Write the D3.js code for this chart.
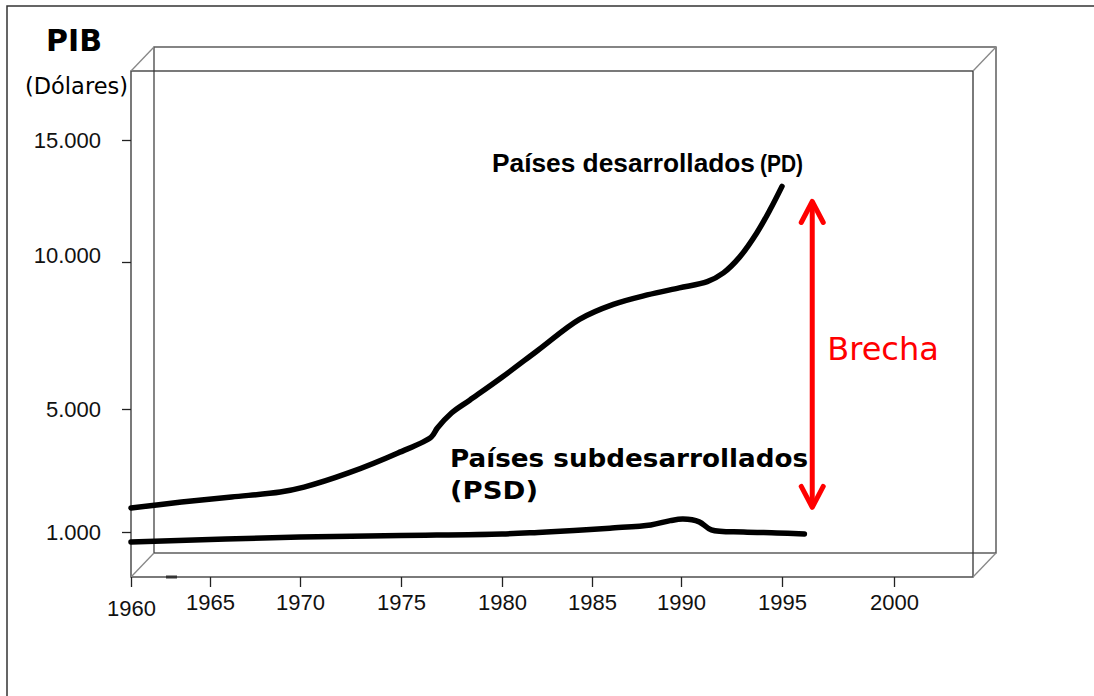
<!DOCTYPE html>
<html>
<head>
<meta charset="utf-8">
<title>PIB - Brecha PD / PSD</title>
<script src="https://cdn.jsdelivr.net/npm/d3@7"></script>
<style>
  body { margin: 0; background: #fff; }
  svg { display: block; }
</style>
</head>
<body>
<svg id="chart" width="1094" height="696"></svg>
<script>
// ticks
const yearTicks = [1960, 1965, 1970, 1975, 1980, 1985, 1990, 1995, 2000];
const pibTicks = [1000, 5000, 10000, 15000];

// Países desarrollados (PD)
const pdYears  = [1960, 1963.2, 1966.2, 1968.9, 1970.2, 1972.4, 1974.85, 1976.5, 1976.8, 1977.5, 1978.4, 1980, 1982, 1984.3, 1986.2, 1988.1, 1989.9, 1991.3, 1992.1, 1992.9, 1993.75, 1994.4, 1995.0];
const pdValues = [1780, 1975, 2140, 2300, 2460, 2920, 3570, 4090, 4380, 4870, 5300, 6080, 7000, 8050, 8560, 8880, 9120, 9330, 9630, 10200, 11190, 12130, 13100];

// Países subdesarrollados (PSD)
const psdYears  = [1960, 1970, 1975, 1980, 1982, 1984, 1986, 1988.3, 1989.4, 1990.1, 1990.9, 1991.5, 1993.1, 1994.75, 1996];
const psdValues = [675, 837, 886, 935, 985, 1045, 1125, 1230, 1370, 1420, 1330, 1070, 1000, 970, 935];

// brecha arrow (year, from value, to value)
const brechaYear = 1996.35;
const brechaRange = [1800, 12480];

const svg = d3.select("#chart");

// the original axis is hand drawn, spacing is uneven -> piecewise scales
const x = d3.scaleLinear().domain(yearTicks).range([131, 210, 300, 401, 502, 592, 681, 782, 894]);
const y = d3.scaleLinear().domain(pibTicks).range([532, 409, 262, 140]);

const box = { left: 131, right: 973, top: 71, bottom: 577, dx: 23, dy: -24 };

// outer frame
svg.append("rect")
    .attr("x", 7).attr("y", 6).attr("width", 1100).attr("height", 700)
    .attr("fill", "none").attr("stroke", "#333").attr("stroke-width", 1.5);

// 3d box
const g3d = svg.append("g").attr("fill", "none");
const back = { left: box.left + box.dx, right: box.right + box.dx, top: box.top + box.dy, bottom: box.bottom + box.dy };
g3d.append("rect")
    .attr("x", back.left).attr("y", back.top)
    .attr("width", back.right - back.left).attr("height", back.bottom - back.top)
    .attr("stroke", "#444").attr("stroke-width", 1.3);
g3d.append("rect")
    .attr("x", box.left).attr("y", box.top)
    .attr("width", box.right - box.left).attr("height", box.bottom - box.top)
    .attr("stroke", "#333").attr("stroke-width", 1.3);
[[box.left, box.top], [box.right, box.top], [box.right, box.bottom], [box.left, box.bottom]].forEach(([cx, cy]) => {
    g3d.append("line")
        .attr("x1", cx).attr("y1", cy).attr("x2", cx + box.dx).attr("y2", cy + box.dy)
        .attr("stroke", "#888").attr("stroke-width", 1.3);
});
// small stray mark on the base
svg.append("line").attr("x1", 166).attr("x2", 177).attr("y1", 577).attr("y2", 577)
    .attr("stroke", "#333").attr("stroke-width", 3);

// axes
const esLocale = d3.formatLocale({ decimal: ",", thousands: ".", grouping: [3], currency: ["", " €"] });
const fmt = esLocale.format(",");

const xAxis = svg.append("g")
    .attr("transform", `translate(0,${box.bottom})`)
    .call(d3.axisBottom(x).tickValues(yearTicks).tickSize(10).tickPadding(7).tickFormat(d3.format("d")));
xAxis.select(".domain").remove();
xAxis.attr("font-family", "'Liberation Sans', Arial, sans-serif").attr("font-size", 22);
xAxis.selectAll("line").attr("stroke", "#222").attr("stroke-width", 1.3);
xAxis.selectAll("text").attr("fill", "#111")
    .attr("dy", d => d === 1960 ? "1.0em" : "0.71em");

const yAxis = svg.append("g")
    .attr("transform", `translate(${box.left},0)`)
    .call(d3.axisLeft(y).tickValues(pibTicks).tickSize(9).tickPadding(21).tickFormat(fmt));
yAxis.select(".domain").remove();
yAxis.attr("font-family", "'Liberation Sans', Arial, sans-serif").attr("font-size", 22);
yAxis.selectAll("line").attr("stroke", "#222").attr("stroke-width", 1.3);
yAxis.selectAll("text").attr("fill", "#111")
    .attr("dy", d => d === 10000 ? "0" : "0.32em");

// titles
svg.append("text").attr("x", 46).attr("y", 51)
    .attr("font-family", "'DejaVu Sans', Verdana, sans-serif").attr("font-weight", "bold").attr("font-size", 30)
    .text("PIB");
svg.append("text").attr("x", 25).attr("y", 94)
    .attr("font-family", "'DejaVu Sans', Verdana, sans-serif").attr("font-size", 22.5)
    .text("(Dólares)");

// series
const line = d3.line().x(d => x(d[0])).y(d => y(d[1])).curve(d3.curveCatmullRom.alpha(0.5));
const series = [d3.zip(pdYears, pdValues), d3.zip(psdYears, psdValues)];
svg.append("g").selectAll("path")
    .data(series)
    .join("path")
    .attr("d", line)
    .attr("fill", "none")
    .attr("stroke", "#000")
    .attr("stroke-width", 5.5)
    .attr("stroke-linecap", "round")
    .attr("stroke-linejoin", "round");

// series labels
svg.append("text").attr("x", 492).attr("y", 172)
    .attr("font-family", "'Liberation Sans', Arial, sans-serif").attr("font-weight", "bold").attr("font-size", 25)
    .attr("textLength", 263).attr("lengthAdjust", "spacingAndGlyphs")
    .text("Países desarrollados");
svg.append("text").attr("x", 760).attr("y", 172)
    .attr("font-family", "'Liberation Sans', Arial, sans-serif").attr("font-weight", "bold").attr("font-size", 23)
    .attr("textLength", 43).attr("lengthAdjust", "spacingAndGlyphs")
    .text("(PD)");

const psdLabel = svg.append("text")
    .attr("font-family", "'DejaVu Sans', Verdana, sans-serif").attr("font-weight", "bold").attr("font-size", 25);
psdLabel.append("tspan").attr("x", 450).attr("y", 467)
    .attr("textLength", 358).attr("lengthAdjust", "spacingAndGlyphs")
    .text("Países subdesarrollados");
psdLabel.append("tspan").attr("x", 450).attr("y", 499)
    .attr("textLength", 88).attr("lengthAdjust", "spacingAndGlyphs")
    .text("(PSD)");

// brecha arrow
const ax = x(brechaYear);
const yLow = y(brechaRange[0]);
const yHigh = y(brechaRange[1]);
const arrow = svg.append("g")
    .attr("fill", "none").attr("stroke", "#ff0000").attr("stroke-width", 5)
    .attr("stroke-linecap", "round").attr("stroke-linejoin", "round");
arrow.append("line").attr("x1", ax).attr("x2", ax).attr("y1", yHigh + 2).attr("y2", yLow - 2);
arrow.append("path").attr("d", `M${ax - 11},${yHigh + 21}L${ax},${yHigh}L${ax + 11},${yHigh + 21}`);
arrow.append("path").attr("d", `M${ax - 11},${yLow - 21}L${ax},${yLow}L${ax + 11},${yLow - 21}`);

svg.append("text").attr("x", ax + 15).attr("y", 360)
    .attr("font-family", "'DejaVu Sans', Verdana, sans-serif").attr("font-size", 32)
    .attr("fill", "#ff0000")
    .text("Brecha");
</script>
</body>
</html>
